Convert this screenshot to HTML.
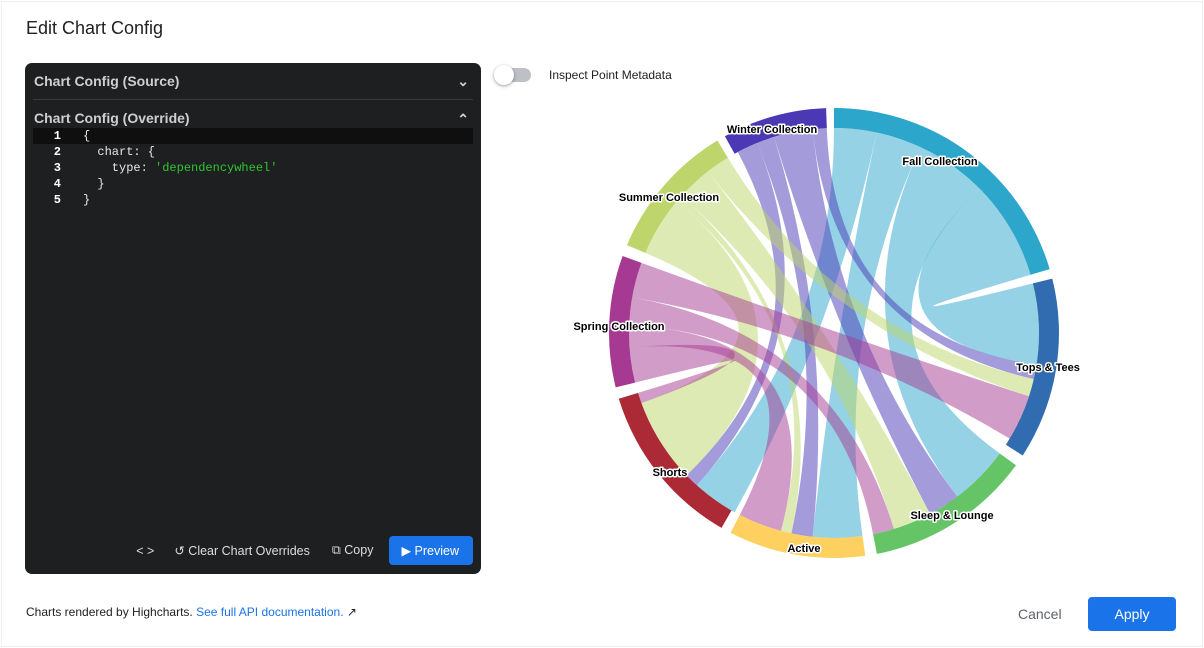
<!DOCTYPE html>
<html><head><meta charset="utf-8"><style>
body{margin:0;width:1204px;height:648px;background:#fff;font-family:"Liberation Sans",Arial,sans-serif;position:relative;overflow:hidden}
.frame{position:absolute;left:1px;top:1px;width:1200px;height:644px;border:1px solid #eee}
.title{position:absolute;left:26px;top:18px;font-size:18px;color:#202124}
.panel{position:absolute;left:25px;top:63px;width:456px;height:511px;background:#1e1f21;border-radius:7px;color:#d0d0d0}
.h{position:absolute;left:9px;font-size:14px;font-weight:bold;color:#cfcfcf}
.sep{position:absolute;left:8px;right:8px;top:36px;height:1px;background:#3a3b3e}
.code{position:absolute;left:8px;right:8px;top:65px;font-family:"Liberation Mono",monospace;font-size:12px;line-height:16px}
.ln{height:16px;position:relative;white-space:pre;color:#e6e6e6}
.ln .n{display:inline-block;width:28px;text-align:right;color:#fff;font-weight:bold;margin-right:22px}
.act{background:#0f0f10}
.str{color:#2ec52e}
.btns{position:absolute;bottom:9px;right:8px;display:flex;align-items:center;font-size:12.5px;color:#ddd}
.pv{background:#1a73e8;color:#fff;border-radius:4px;padding:7px 14px 7px 12px;margin-left:16px}
.tog{position:absolute;left:497px;top:68px;width:34px;height:14px;border-radius:7px;background:#bdc1c6}
.knob{position:absolute;left:494px;top:65px;width:20px;height:20px;border-radius:50%;background:#fff;box-shadow:0 1px 3px rgba(0,0,0,.4)}
.ipm{position:absolute;left:549px;top:68px;font-size:12px;color:#202124}
.foot{position:absolute;left:26px;top:605px;font-size:12px;color:#202124}
.foot a{color:#1a73e8;text-decoration:none}
.cancel{position:absolute;left:1018px;top:606px;font-size:14px;color:#5f6368}
.apply{position:absolute;left:1088px;top:597px;width:88px;height:34px;background:#1a73e8;color:#fff;border-radius:4px;font-size:14px;text-align:center;line-height:34px}
svg text{font-family:"Liberation Sans",Arial,sans-serif;font-size:11px;font-weight:bold;fill:#000;stroke:#fff;stroke-width:3px;paint-order:stroke;stroke-linejoin:round}
</style></head><body>
<div class="frame"></div>
<div class="title">Edit Chart Config</div>
<div class="panel">
<div class="h" style="top:10px">Chart Config (Source)</div>
<div class="h" style="top:10px;right:12px;left:auto">&#8964;</div>
<div class="sep"></div>
<div class="h" style="top:47px">Chart Config (Override)</div>
<div class="h" style="top:48px;right:12px;left:auto">&#8963;</div>
<div class="code">
<div class="ln act"><span class="n">1</span>{</div>
<div class="ln"><span class="n">2</span>  chart: {</div>
<div class="ln"><span class="n">3</span>    type: <span class="str">'dependencywheel'</span></div>
<div class="ln"><span class="n">4</span>  }</div>
<div class="ln"><span class="n">5</span>}</div>
</div>
<div class="btns"><span style="margin-right:20px">&lt; &gt;</span><span>&#8634; Clear Chart Overrides</span><span style="margin-left:22px">&#10697; Copy</span><span class="pv">&#9654; Preview</span></div>
</div>
<div class="tog"></div><div class="knob"></div>
<div class="ipm">Inspect Point Metadata</div>
<svg id="w" style="position:absolute;left:0;top:0" width="1204" height="648"></svg>
<div class="foot">Charts rendered by Highcharts. <a>See full API documentation.</a> &#x2197;</div>
<div class="cancel">Cancel</div>
<div class="apply">Apply</div>
<script>
var cx=834,cy=333,R=225,r=205;
function p(a,rr){a=a*Math.PI/180;return (cx+rr*Math.sin(a)).toFixed(1)+","+(cy-rr*Math.cos(a)).toFixed(1);}
var nodes=[["Fall Collection",0,73.5,"#2ca6cb",940,165],["Tops & Tees",76,123,"#316bb0",1048,371],["Sleep & Lounge",126,169,"#65c466",952,519],["Active",172,207.4,"#fdd05f",804,552],["Shorts",210,253,"#ac2a35",670,476],["Spring Collection",256,290,"#a63a93",619,330],["Summer Collection",293,328.8,"#bdd56a",669,201],["Winter Collection",331,358,"#4a38b5",772,133]];
var links=[[0,12,209,222,"#2ca6cb"],[12,25,172,186,"#2ca6cb"],[25,45,126,143,"#2ca6cb"],[45,73.5,76,99,"#2ca6cb"],
[332,338,222,226,"#4a38b5"],[338,343,186,192,"#4a38b5"],[343,354,143,152,"#4a38b5"],[354,358,99,103,"#4a38b5"],
[293,310,226,250,"#bdd56a"],[310,312,192,195,"#bdd56a"],[312,322,152,163,"#bdd56a"],[322,328.8,103,108,"#bdd56a"],
[256,266,250,253,"#a63a93"],[266,272,195,207.4,"#a63a93"],[272,280,163,169,"#a63a93"],[280,290,108,121,"#a63a93"]];
var s="",c=cx+","+cy;
links.forEach(function(l){s+='<path fill="'+l[4]+'" fill-opacity="0.5" d="M'+p(l[0],r)+' A'+r+' '+r+' 0 0 1 '+p(l[1],r)+' Q'+c+' '+p(l[2],r)+' A'+r+' '+r+' 0 0 1 '+p(l[3],r)+' Q'+c+' '+p(l[0],r)+'Z"/>';});
nodes.forEach(function(n){var lg=(n[2]-n[1])>180?1:0;s+='<path fill="'+n[3]+'" d="M'+p(n[1],R)+' A'+R+' '+R+' 0 '+lg+' 1 '+p(n[2],R)+' L'+p(n[2],r)+' A'+r+' '+r+' 0 '+lg+' 0 '+p(n[1],r)+'Z"/>';});
nodes.forEach(function(n){s+='<text x="'+n[4]+'" y="'+n[5]+'" text-anchor="middle">'+n[0].replace("&","&amp;")+'</text>';});
document.getElementById("w").innerHTML=s;
</script>
</body></html>
